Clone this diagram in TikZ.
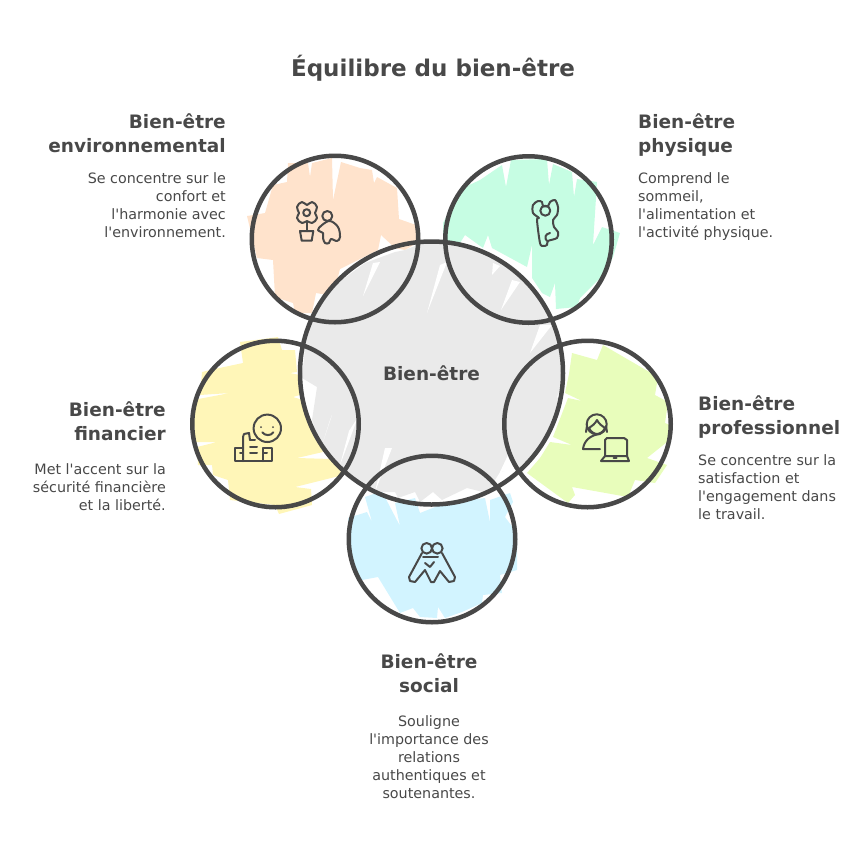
\documentclass[tikz,border=0pt]{standalone}
\usepackage{fontspec}
\newfontfamily\dvfont{DejaVu Sans}
\definecolor{ink}{HTML}{484848}
\definecolor{peach}{HTML}{FFE3CC}
\definecolor{mint}{HTML}{C6FDE3}
\definecolor{butter}{HTML}{FFF6B8}
\definecolor{lime}{HTML}{E8FDBB}
\definecolor{sky}{HTML}{D2F4FF}
\definecolor{haze}{HTML}{EAEAEA}
\tikzset{
  petal/.style={circle,draw=ink,line width=4.5pt,minimum size=166.5pt,inner sep=0pt},
  hub/.style={petal,minimum size=263pt,text=ink,font=\dvfont\bfseries\fontsize{18.5}{24}\selectfont},
  headtxt/.style={inner sep=0pt,text=ink,font=\dvfont\bfseries\fontsize{18.5}{24}\selectfont},
  bodytxt/.style={inner sep=0pt,text=ink,font=\dvfont\fontsize{14.3}{18}\selectfont},
  glyph/.style={draw=ink,line width=2pt,line cap=round,line join=round}
}
\begin{document}
\begin{tikzpicture}[x=1pt,y=-1pt]
  \useasboundingbox (0,0) rectangle (865,852);

  % scribbled fills
  \fill[peach] (288,163) -- (308,163) -- (310,177) -- (312,163) -- (332,158) -- (333,200) -- (341,162) -- (360,168) -- (372,170) -- (374,183) -- (377,177) -- (397,188) -- (399,219) -- (416,225) -- (417,243) -- (405,250) -- (395,248) -- (381,235) -- (378,250) -- (340,269) -- (333,296) -- (316,293) -- (312,313) -- (295,313) -- (293,303) -- (275,297) -- (273,260) -- (257,258) -- (247,216) -- (265,213) -- (273,185) -- (287,182) -- cycle;
  \fill[mint] (443,240) -- (443,223) -- (452,205) -- (465,187) -- (480,180) -- (502,165) -- (506,187) -- (511,160) -- (547,159) -- (549,185) -- (553,164) -- (572,172) -- (574,197) -- (577,179) -- (597,182) -- (593,245) -- (602,227) -- (620,233) -- (613,257) -- (605,273) -- (580,298) -- (577,307) -- (556,309) -- (555,283) -- (550,297) -- (542,293) -- (532,278) -- (532,245) -- (527,267) -- (492,248) -- (488,235) -- (483,248) -- (465,235) -- (460,243) -- cycle;
  \fill[butter] (240,342) -- (278,337) -- (282,350) -- (295,350) -- (297,372) -- (290,373) -- (300,375) -- (300,395) -- (293,397) -- (303,400) -- (323,452) -- (297,458) -- (332,459) -- (343,475) -- (295,487) -- (311,489) -- (312,505) -- (279,514) -- (275,505) -- (230,500) -- (228,480) -- (213,475) -- (212,465) -- (198,465) -- (197,447) -- (217,442) -- (195,442) -- (193,400) -- (230,393) -- (200,395) -- (202,372) -- (210,370) -- (243,363) -- cycle;
  \fill[lime] (572,353) -- (597,360) -- (603,345) -- (658,377) -- (655,395) -- (668,402) -- (665,423) -- (670,425) -- (667,442) -- (647,458) -- (667,465) -- (655,483) -- (635,480) -- (628,497) -- (572,487) -- (575,495) -- (568,503) -- (527,473) -- (540,458) -- (550,442) -- (572,445) -- (553,437) -- (568,398) -- (582,401) -- (565,393) -- (569,374) -- cycle;
  \fill[sky] (348,518) -- (367,512) -- (372,522) -- (365,497) -- (382,491) -- (388,503) -- (400,526) -- (395,503) -- (415,498) -- (420,513) -- (445,503) -- (485,498) -- (490,522) -- (490,500) -- (510,493) -- (513,502) -- (505,517) -- (517,533) -- (517,570) -- (500,575) -- (502,593) -- (483,595) -- (482,603) -- (462,612) -- (445,618) -- (438,607) -- (437,618) -- (420,617) -- (413,608) -- (400,613) -- (378,577) -- (362,580) -- (348,553) -- cycle;
  \fill[haze] (302,378) -- (305,348) -- (312,318) -- (335,285) -- (365,263) -- (395,252) -- (405,250) -- (422,243) -- (445,243) -- (482,252) -- (515,272) -- (538,292) -- (553,318) -- (562,348) -- (563,382) -- (557,397) -- (545,390) -- (558,398) -- (553,425) -- (538,452) -- (518,468) -- (500,472) -- (487,493) -- (467,488) -- (442,500) -- (433,492) -- (420,502) -- (415,492) -- (398,498) -- (395,492) -- (377,492) -- (367,485) -- (345,470) -- (322,448) -- (312,420) -- (317,387) -- cycle;
  \foreach \ax/\ay/\bx/\by/\cx/\cy in {363/296/373/263/380/262,427/313/440/265/447/262,501/310/512/280/520/282,492/275/493/263/500/266,530/353/540/325/552/325,323/442/332/415/330/420,340/465/358/417/349/431,375/492/392/448/385/448,500/472/508/455/515/470}
    \fill[white] (\ax,\ay) -- (\bx,\by) -- (\cx,\cy) -- cycle;

  % rings
  \node[petal] (env) at (335,239) {};
  \node[petal] (phys) at (528.5,239.5) {};
  \node[petal] (fin) at (275.5,424) {};
  \node[petal] (prof) at (587.5,424) {};
  \node[petal] (soc) at (432,539) {};
  \node[hub] (core) at (431.5,373) {Bien-être};

  % environment glyph
  \draw[glyph] plot[smooth cycle,tension=0.8] coordinates {(307,205) (312,202) (317,207) (315,213) (317,218) (312,223) (307,221) (302,223) (297,218) (299,213) (297,207) (302,202)};
  \draw[glyph] (306.7,212.7) circle (3.5);
  \draw[glyph] (306.7,222) -- (306.7,231);
  \draw[glyph] (300,231) -- (313.3,231) -- (311.7,240.7) -- (301.7,240.7) -- cycle;
  \draw[glyph] (327.3,216) circle (5);
  \draw[glyph] plot[smooth cycle,tension=0.6] coordinates {(330,221) (338,227) (340,237) (337,241) (331,239) (329,243) (325,243) (323,238) (323,233) (318,230) (322,225)};

  % physical glyph
  \draw[glyph] (545.3,210.7) circle (5);
  \draw[glyph] plot[smooth cycle,tension=0.5] coordinates {(539,218) (533,213) (533,205) (538,201) (542,202) (543,206) (548,206) (550,202) (555,200) (558,207) (557,215) (553,220) (554,227) (558,232) (557,238) (548,241) (547,245) (543,246) (540,243) (537,220)};
  \draw[glyph] (547,241) .. controls (544,238) and (545,234) .. (550,233);

  % financial glyph
  \draw[glyph] (267.3,428.3) circle (13.7);
  \fill[ink] (261,427) circle (1) (273,427) circle (1);
  \draw[glyph] (262.3,432.3) .. controls (265,436) and (271,436) .. (273.3,432.3);
  \draw[glyph] (243,448) -- (235,448) -- (235,461) -- (272,461) -- (272,448) -- (263,448);
  \draw[glyph] (243,461) -- (243,437) -- (244,434) -- (249,433) -- (250,440);
  \draw[glyph] (263,461) -- (263,448);
  \foreach \lx/\ly/\rx in {250/440/255,250/447/257,250/453/257,240/453/242,264/453/267}
    \draw[glyph] (\lx,\ly) -- (\rx,\ly);

  % work glyph
  \draw[glyph] (596.7,424.3) circle (10);
  \draw[glyph] (589,428) .. controls (592,426) and (595,424) .. (597,420) .. controls (599,424) and (602,426) .. (605,428);
  \draw[glyph] (589,428) .. controls (591,432) and (594,434) .. (597,434) .. controls (600,434) and (603,432) .. (605,428);
  \draw[glyph] (587,426) -- (586,432);
  \draw[glyph] (606,426) -- (607,432);
  \draw[glyph] (600,449) -- (583,449) .. controls (584,441) and (590,435) .. (600,434);
  \draw[glyph] (605,456) -- (605,440) -- (607,438) -- (624,438) -- (627,440) -- (627,456);
  \draw[glyph] (605,456) -- (601,461) -- (629,461) -- (627,456) -- cycle;
  \draw[glyph] (613.5,457.5) -- (616.5,457.5);

  % social glyph
  \draw[glyph] (426.7,548.3) circle (5.3);
  \draw[glyph] (437.3,548.3) circle (5.3);
  \draw[glyph] (422,553) -- (409,577) -- (410,581) -- (415,582) -- (425,570) -- (431,582) -- (434,582) -- (440,571) -- (449,582) -- (454,581) -- (455,577) -- (442,553);
  \draw[glyph] (423,557) -- (438,557);
  \draw[glyph] (425,563) -- (430,567) -- (434,562);

  % captions
  \node[headtxt,anchor=north] (title) at (433,55) {\fontsize{23}{28}\selectfont Équilibre du bien-être};

  \node[headtxt,anchor=north east,align=right] (envhead) at (226,113) {Bien-être\\environnemental};
  \node[bodytxt,anchor=north east,align=right] (envbody) at (226,172) {Se concentre sur le\\confort et\\l'harmonie avec\\l'environnement.};

  \node[headtxt,anchor=north west,align=left] (physhead) at (638,113) {Bien-être\\physique};
  \node[bodytxt,anchor=north west,align=left] (physbody) at (638,172) {Comprend le\\sommeil,\\l'alimentation et\\l'activité physique.};

  \node[headtxt,anchor=north east,align=right] (finhead) at (166,401) {Bien-être\\financier};
  \node[bodytxt,anchor=north east,align=right] (finbody) at (166,463) {Met l'accent sur la\\sécurité financière\\et la liberté.};

  \node[headtxt,anchor=north west,align=left] (profhead) at (698,395) {Bien-être\\professionnel};
  \node[bodytxt,anchor=north west,align=left] (profbody) at (698,454) {Se concentre sur la\\satisfaction et\\l'engagement dans\\le travail.};

  \node[headtxt,anchor=north,align=center] (sochead) at (429,653) {Bien-être\\social};
  \node[bodytxt,anchor=north,align=center] (socbody) at (429,715) {Souligne\\l'importance des\\relations\\authentiques et\\soutenantes.};
\end{tikzpicture}
\end{document}
